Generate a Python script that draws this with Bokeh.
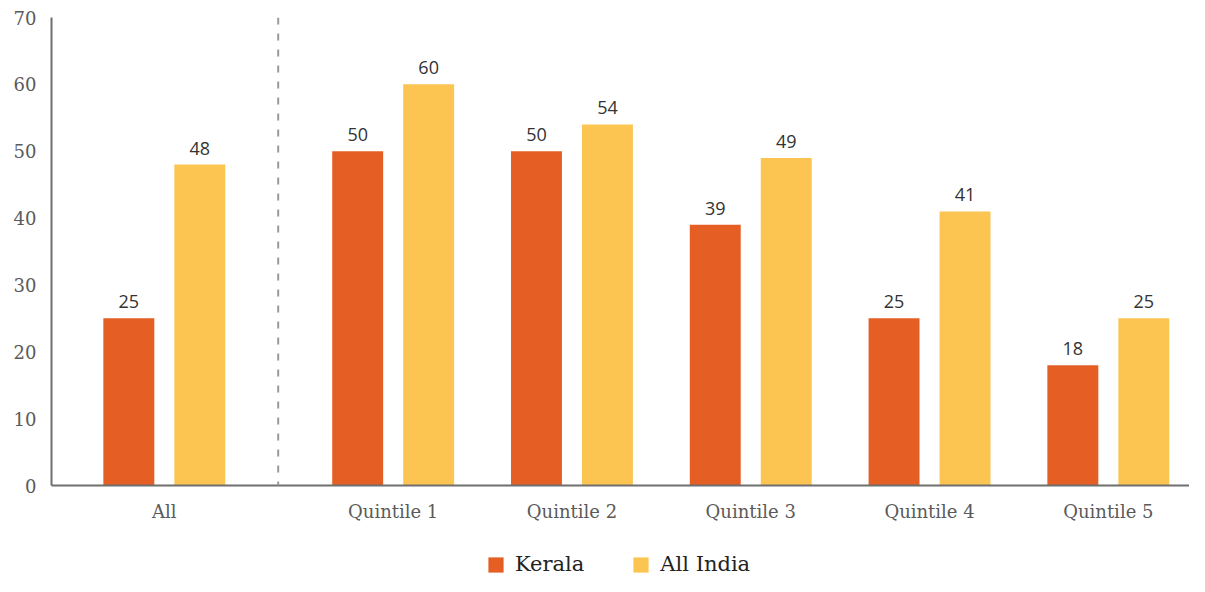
from bokeh.plotting import figure
from bokeh.layouts import column
from bokeh.models import (ColumnDataSource, FixedTicker, CustomJSTickFormatter, Span,
                          Legend, LegendItem, LabelSet, Range1d)
from bokeh.core.properties import value
from bokeh.embed import file_html
from bokeh.resources import INLINE

# ---- data ----
categories = ["All", "Quintile 1", "Quintile 2", "Quintile 3", "Quintile 4", "Quintile 5"]
kerala = [25, 50, 50, 39, 25, 18]
all_india = [48, 60, 54, 49, 41, 25]
y_ticks = [0, 10, 20, 30, 40, 50, 60, 70]
series_names = ["Kerala", "All India"]

# ---- layout constants ----
x_pos = [-0.28, 1, 2, 3, 4, 5]      # category centres (All is set apart)
divider_x = 0.357
offset = 0.1985
bar_w = 0.285
c_kerala = "#E55F25"
c_india = "#FCC552"
TOTAL_W = 1189
MAIN_H = 530
LEG_H = 46

p = figure(width=TOTAL_W, height=MAIN_H,
           x_range=Range1d(-0.911, 5.454), y_range=Range1d(0, 70),
           output_backend="svg", toolbar_location=None,
           min_border_left=51, min_border_right=0, min_border_top=17, min_border_bottom=45)
p.outline_line_color = None
p.xgrid.visible = False
p.ygrid.visible = False
p.background_fill_color = "white"
p.border_fill_color = "white"

src_k = ColumnDataSource(dict(x=[v - offset for v in x_pos], top=kerala,
                              lab=[str(v) for v in kerala]))
src_i = ColumnDataSource(dict(x=[v + offset for v in x_pos], top=all_india,
                              lab=[str(v) for v in all_india]))

p.vbar(x="x", top="top", bottom=0, width=bar_w, source=src_k,
       fill_color=c_kerala, line_color=None)
p.vbar(x="x", top="top", bottom=0, width=bar_w, source=src_i,
       fill_color=c_india, line_color=None)

for src in (src_k, src_i):
    p.add_layout(LabelSet(x="x", y="top", text="lab", source=src,
                          text_align="center", text_baseline="alphabetic", y_offset=10,
                          text_font=value("Open Sans"), text_font_size=value("18px"),
                          text_color="#333333"))

p.add_layout(Span(location=divider_x, dimension="height", line_color="#9a9a9a",
                  line_width=2, line_dash="7 9"))

# axes
p.xaxis.ticker = FixedTicker(ticks=x_pos)
p.xaxis.formatter = CustomJSTickFormatter(args=dict(labels=categories),
                                          code="return labels[index];")
p.yaxis.ticker = FixedTicker(ticks=y_ticks)
for ax in (p.xaxis[0], p.yaxis[0]):
    ax.axis_line_color = "#6f6f6f"
    ax.axis_line_width = 2
    ax.major_tick_line_color = None
    ax.minor_tick_line_color = None
    ax.major_tick_out = 0
    ax.major_label_text_font = "DejaVu Serif"
    ax.major_label_text_font_size = "18px"
    ax.major_label_text_color = "#5a5a5a"
p.xaxis.major_label_standoff = 15
p.yaxis.major_label_standoff = 15

# ---- legend strip below the chart ----
lg = figure(width=TOTAL_W, height=LEG_H, x_range=Range1d(0, 1), y_range=Range1d(0, 1),
            output_backend="svg", toolbar_location=None,
            min_border_left=0, min_border_right=0, min_border_top=0, min_border_bottom=0)
lg.axis.visible = False
lg.grid.visible = False
lg.outline_line_color = None
lg.background_fill_color = "white"
lg.border_fill_color = "white"
# proxy renderers (kept outside the visible range) that only feed the legend swatches
dk = lg.vbar(x=[-5], top=[-5], width=0.1, fill_color=c_kerala, line_color=None)
di = lg.vbar(x=[-5], top=[-5], width=0.1, fill_color=c_india, line_color=None)
legend = Legend(items=[LegendItem(label=series_names[0], renderers=[dk]),
                       LegendItem(label=series_names[1], renderers=[di])],
                orientation="horizontal", location=(435, 0),
                glyph_width=19, glyph_height=19, label_standoff=10, spacing=47,
                padding=0, margin=0, border_line_color=None, background_fill_alpha=0,
                label_text_font="DejaVu Serif", label_text_font_size="21px",
                label_text_color="#222222")
lg.add_layout(legend)

layout = column(p, lg, spacing=0)
open("out.html", "w").write(file_html(layout, INLINE))
